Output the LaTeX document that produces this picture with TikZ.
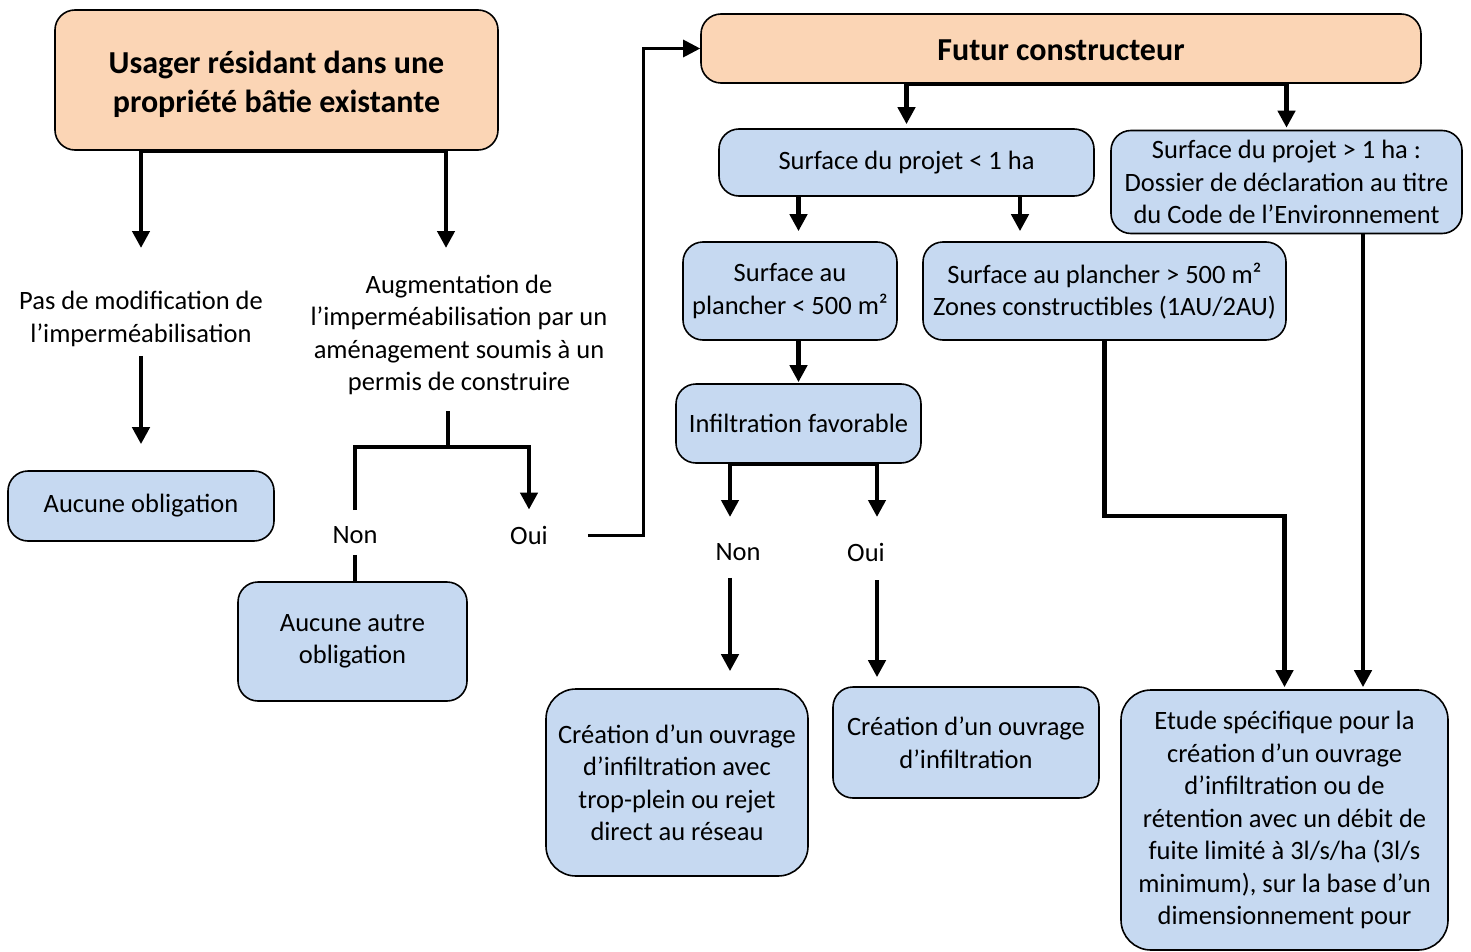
\documentclass[tikz,border=0pt]{standalone}
\usepackage{fontspec}
\setmainfont{Carlito}
\usetikzlibrary{arrows.meta}
\definecolor{peach}{HTML}{FBD5B5}
\definecolor{paleblue}{HTML}{C6D9F1}
\tikzset{
  box/.style={draw=black, line width=1.6pt, rounded corners=20pt, fill=paleblue,
    align=center, inner sep=0pt, font=\fontsize{26.5}{32.5}\selectfont},
  headbox/.style={box, fill=peach, font=\bfseries\fontsize{32}{39}\selectfont},
  txt/.style={align=center, inner sep=0pt, font=\fontsize{26.5}{32.5}\selectfont},
  link/.style={line width=4.5pt},
  flow/.style={link, -{Triangle[width=17pt,length=17pt]}},
}

\begin{document}
\begin{tikzpicture}[x=1pt,y=-1pt]
    \useasboundingbox (0,0) rectangle (1471,952);
    % boxes
    \node[headbox, minimum width=443pt, minimum height=140pt] (U) at (276.5,80)
        {\raisebox{-4pt}[\height][\depth]{\shortstack{Usager résidant dans une\\[8pt]propriété bâtie existante}}};
    \node[headbox, minimum width=720pt, minimum height=69pt] (F) at (1061,48.5)
        {\raisebox{-2pt}[\height][\depth]{Futur constructeur}};
    \node[box, minimum width=375pt, minimum height=67pt] (S1) at (906.5,162.5)
        {Surface du projet < 1 ha};
    \node[box, minimum width=351pt, minimum height=103pt] (S2) at (1286.5,182)
        {Surface du projet > 1 ha :\\Dossier de déclaration au titre\\du Code de l’Environnement};
    \node[box, minimum width=214pt, minimum height=98pt] (P1) at (790,291)
        {Surface au\\plancher < 500 m²};
    \node[box, minimum width=363pt, minimum height=98pt] (P2) at (1104.5,291)
        {Surface au plancher > 500 m²\\Zones constructibles (1AU/2AU)};
    \node[box, minimum width=245pt, minimum height=79pt] (I) at (798.5,423.5)
        {Infiltration favorable};
    \node[box, minimum width=266pt, minimum height=70pt] (A0) at (141,506)
        {Aucune obligation};
    \node[box, minimum width=229pt, minimum height=119pt] (A1) at (352.5,641.5)
        {Aucune autre\\obligation};
    \node[box, minimum width=262pt, minimum height=187pt, rounded corners=30pt] (C1) at (677,782.5)
        {Création d’un ouvrage\\d’infiltration avec\\trop-plein ou rejet\\direct au réseau};
    \node[box, minimum width=266pt, minimum height=111pt] (C2) at (966,742.5)
        {Création d’un ouvrage\\d’infiltration};
    \node[box, minimum width=327pt, minimum height=260pt, rounded corners=30pt] (E) at (1284.5,820)
        {Etude spécifique pour la\\création d’un ouvrage\\d’infiltration ou de\\rétention avec un débit de\\fuite limité à 3l/s/ha (3l/s\\minimum), sur la base d’un\\dimensionnement pour};
    % free texts
    \node[txt] (L1) at (141,319) {Pas de modification de\\l’imperméabilisation};
    \node[txt] (L2) at (459,335) {Augmentation de\\l’imperméabilisation par un\\aménagement soumis à un\\permis de construire};
    \node[txt] (Non1) at (355,535) {Non};
    \node[txt] (Oui1) at (529,535) {Oui};
    \node[txt] (Non2) at (738,552) {Non};
    \node[txt] (Oui2) at (866,552) {Oui};
    % corner points
    \coordinate (u2) at (446,248);
    \coordinate (k1) at (448,447);
    \coordinate (k5) at (643,0);
    \coordinate (iN) at (730,517);
    \coordinate (iO) at (877,517);
    \coordinate (p2in) at (1020,0);
    \coordinate (e1) at (1200,516);
    \coordinate (e2) at (1363,0);
    % left branch
    \draw[link] (U.south -| L1) -- (U.south -| u2);
    \draw[flow] (U.south -| L1) -- (L1.north |- u2);
    \draw[flow] (U.south -| u2) -- (u2);
    \draw[flow, shorten <=9pt, shorten >=26pt] (L1.south) -- (A0.north);
    \draw[link, shorten <=16pt] (L2.south -| k1) -- (k1);
    \draw[flow, shorten <=16pt, shorten >=16pt] (Non1.north) |- (k1) -| (Oui1.north);
    \draw[link, shorten <=11pt] (Non1.south) -- (Non1.south |- A1.north);
    \draw[flow, line width=3pt] ([xshift=40pt]Oui1.east) -| (k5 |- F.west) -- (F.west);
    % right branch
    \draw[link] (F.south -| S1) -- (F.south -| S2);
    \draw[flow, shorten >=4pt] (F.south -| S1) -- (S1.north);
    \draw[flow, shorten >=2pt] (F.south -| S2) -- (S2.north);
    \draw[flow, shorten >=10pt] (S1.south -| I) -- (P1.north -| I);
    \draw[flow, shorten >=10pt] (S1.south -| p2in) -- (P2.north -| p2in);
    \draw[flow, shorten >=1pt] (P1.south -| I) -- (I.north);
    \draw[flow] (I.south) -| (iN);
    \draw[flow] (I.south) -| (iO);
    \draw[flow, shorten <=17pt, shorten >=17pt] (Non2.south -| iN) -- (C1.north -| iN);
    \draw[flow, shorten <=19pt, shorten >=9pt] (Oui2.south -| iO) -- (C2.north -| iO);
    \draw[flow, shorten >=2pt] (P2.south) |- (e1) -| (E.north);
    \draw[flow, shorten >=2pt] (S2.south -| e2) -- (E.north -| e2);
\end{tikzpicture}
\end{document}
